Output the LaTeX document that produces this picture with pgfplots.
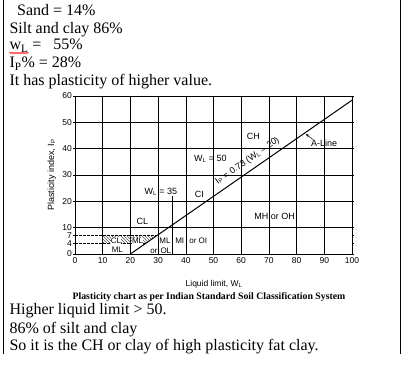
\documentclass[border=0pt]{standalone}
\usepackage{fontspec}
\setmainfont{Liberation Serif}
\setsansfont{Liberation Sans}
\usepackage{pgfplots}
\pgfplotsset{compat=1.18}
\usetikzlibrary{patterns,decorations.pathmorphing,arrows.meta}

\newcommand{\lab}{\sffamily\fontsize{9}{10}\selectfont}
\newcommand{\slab}{\sffamily\fontsize{8}{9}\selectfont}

\begin{document}
\begin{tikzpicture}[x=1pt,y=1pt]
\useasboundingbox (0pt,0pt) rectangle (416pt,385pt);
\draw[line width=1pt] (3.5pt,385pt) -- (3.5pt,31pt);
\draw[line width=1pt] (400pt,385pt) -- (400pt,31pt);
\begin{scope}[every node/.style={font=\fontsize{16}{18}\selectfont, anchor=base west, inner sep=0pt}]
\node at (17pt,369pt) {Sand = 14\%};
\node at (9.3pt,351.5pt) {Silt and clay 86\%};
\node at (9.3pt,335pt) {w\textsubscript{L} =\ \ \ 55\%};
\node at (9.3pt,317pt) {I\textsubscript{P}\% = 28\%};
\node at (9.3pt,299pt) {It has plasticity of higher value.};
\node at (9.3pt,70pt) {Higher liquid limit > 50.};
\node at (9.3pt,51.7pt) {86\% of silt and clay};
\node at (9.3pt,34.3pt) {So it is the CH or clay of high plasticity fat clay.};
\end{scope}
\draw[red, line width=0.5pt, decorate, decoration={zigzag, amplitude=0.8pt, segment length=2pt}] (9.5pt,332pt) -- (28.5pt,332pt);
\node[anchor=base, inner sep=0pt, font=\bfseries\fontsize{9.8}{11}\selectfont] at (209pt,85.7pt) {Plasticity chart as per Indian Standard Soil Classification System};
\node[anchor=base, inner sep=0pt, font=\sffamily\fontsize{8.5}{9}\selectfont] at (214pt,98.5pt) {Liquid limit, W\textsubscript{L}};

\begin{axis}[
  at={(75pt,131pt)}, anchor=south west, scale only axis,
  width=277pt, height=158pt,
  xmin=0, xmax=100, ymin=0, ymax=60,
  xtick={0,10,...,100}, ytick={10,20,...,60},
  extra y ticks={0,4,7}, extra y tick style={grid=none},
  xmajorgrids, ymajorgrids,
  major grid style={black, line width=0.6pt},
  axis line style={black, line width=0.8pt},
  tick align=outside, major tick length=2pt,
  xtick style={draw=none},
  ytick style={black, line width=0.6pt},
  ticklabel style={font=\sffamily\fontsize{8.5}{9}\selectfont, inner sep=1pt},
  /pgf/number format/assume math mode=true,
  ylabel={Plasticity index, I\textsubscript{P}},
  ylabel style={font=\sffamily\fontsize{9}{10}\selectfont, at={(axis description cs:-0.0841,0.5)}, anchor=center},
  clip=false,
]
\addplot[draw=none, pattern=north west lines, pattern color=black!65] coordinates {(10,4) (25.48,4) (29.59,7) (10,7)} -- cycle;
\addplot[black, dash pattern=on 2.5pt off 1.5pt, line width=0.6pt] coordinates {(0,4) (25.48,4)};
\addplot[black, dash pattern=on 2.5pt off 1.5pt, line width=0.6pt] coordinates {(0,7) (29.59,7)};
\addplot[black, line width=0.7pt] coordinates {(35,0) (35,22)};
\addplot[black, line width=1pt] coordinates {(20,0) (100,58.4)};
\addplot[black, line width=0.5pt, -{Stealth[length=3.5pt,width=2.5pt]}] coordinates {(86,43.4) (83.3,45.6)};

\node[font=\lab, rotate=34.8, inner sep=0pt] at (axis cs:62.3,35.3) {I\textsubscript{P} = 0.73 (W\textsubscript{L} – 20)};
\node[font=\lab] at (axis cs:64.4,44.6) {CH};
\node[font=\lab] at (axis cs:89.9,42) {A-Line};
\node[font=\lab] at (axis cs:48.9,36) {W\textsubscript{L} = 50};
\node[font=\lab] at (axis cs:31,23.7) {W\textsubscript{L} = 35};
\node[font=\lab] at (axis cs:44.9,22.8) {CI};
\node[font=\lab] at (axis cs:24.3,12.3) {CL};
\node[font=\lab] at (axis cs:72.1,14.1) {MH or OH};
\node[font=\slab, fill=white, inner sep=0.3pt] at (axis cs:14.8,5.1) {CL};
\node[font=\slab, fill=white, inner sep=0.3pt] at (axis cs:22.6,5.1) {ML};
\node[font=\slab] at (axis cs:15.3,1.5) {ML};
\node[font=\slab] at (axis cs:32.5,5.1) {ML};
\node[font=\slab] at (axis cs:28.5,1.1) {or};
\node[font=\slab] at (axis cs:32.8,1.1) {OL};
\node[font=\slab] at (axis cs:37.8,5.1) {MI};
\node[font=\slab] at (axis cs:44.5,5.1) {or OI};
\end{axis}
\end{tikzpicture}
\end{document}
